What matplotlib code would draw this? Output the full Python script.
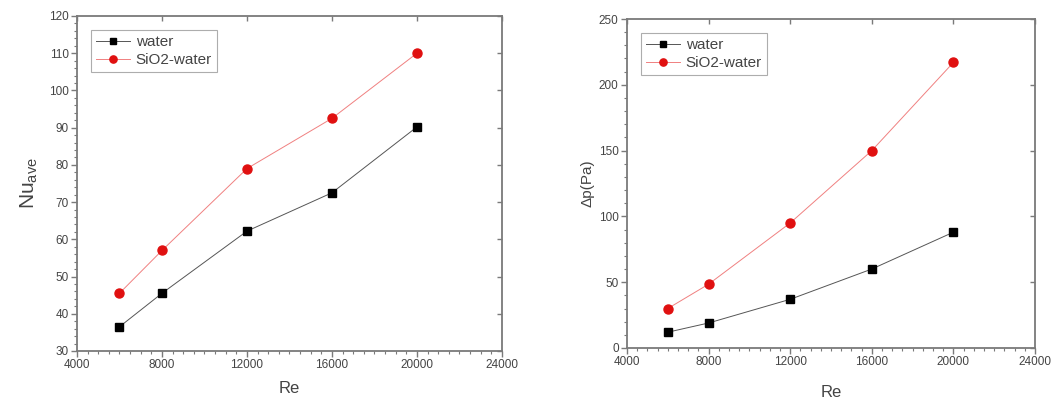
import matplotlib
matplotlib.use("Agg")
import matplotlib.pyplot as plt
from matplotlib.ticker import MultipleLocator

plt.rcParams['font.family'] = ['Liberation Sans', 'DejaVu Sans']

re_values = [6000, 8000, 12000, 16000, 20000]
nu_water = [36.5, 45.5, 62.2, 72.5, 90.2]
nu_sio2 = [45.5, 57.0, 79.0, 92.5, 110.0]
dp_water = [12, 19, 37, 60, 88]
dp_sio2 = [30, 48.5, 95, 150, 217]
series_labels = ["water", "SiO2-water"]

spine_col = "#7a7a7a"
text_col = "#444444"
red = "#e01010"

fig = plt.figure(figsize=(10.57, 4.07), dpi=100)
ax1 = fig.add_axes([0.0728, 0.1376, 0.4021, 0.8231])
ax2 = fig.add_axes([0.5932, 0.145, 0.3860, 0.8083])


def style(ax, ylim, ymajor, yminor):
    ax.set_xlim(4000, 24000)
    ax.set_ylim(*ylim)
    ax.xaxis.set_major_locator(MultipleLocator(4000))
    ax.xaxis.set_minor_locator(MultipleLocator(500))
    ax.yaxis.set_major_locator(MultipleLocator(ymajor))
    ax.yaxis.set_minor_locator(MultipleLocator(yminor))
    for s in ax.spines.values():
        s.set_color(spine_col)
        s.set_linewidth(1.3)
    ax.tick_params(which='major', direction='out', length=4, width=1,
                   color=spine_col, labelsize=8.5, labelcolor=text_col, pad=2)
    ax.tick_params(which='minor', direction='out', length=2.2, width=0.8,
                   color=spine_col)
    # inward major ticks on the top and right edges
    top = ax.secondary_xaxis('top')
    top.xaxis.set_major_locator(MultipleLocator(4000))
    top.tick_params(direction='in', length=3.5, width=1, color=spine_col,
                    labeltop=False)
    top.spines['top'].set_visible(False)
    right = ax.secondary_yaxis('right')
    right.yaxis.set_major_locator(MultipleLocator(ymajor))
    right.tick_params(direction='in', length=3.5, width=1, color=spine_col,
                      labelright=False)
    right.spines['right'].set_visible(False)


def draw(ax, yw, ys):
    ax.plot(re_values, yw, color="#555555", lw=0.7, marker='s', ms=6,
            mfc='black', mec='black', label=series_labels[0])
    ax.plot(re_values, ys, color="#f08080", lw=0.7, marker='o', ms=6.5,
            mfc=red, mec=red, label=series_labels[1])
    leg = ax.legend(loc='upper left', fontsize=11, frameon=True, fancybox=False,
                    edgecolor="#999999", handlelength=2.2, handletextpad=0.4,
                    borderpad=0.35, labelspacing=0.25, borderaxespad=0.9,
                    markerscale=0.8)
    leg.get_frame().set_linewidth(0.8)
    for t in leg.get_texts():
        t.set_color(text_col)


style(ax1, (30, 120), 10, 2)
draw(ax1, nu_water, nu_sio2)
ax1.set_xlabel("Re", fontsize=12, color=text_col, labelpad=7)
ax1.set_ylabel(r"Nu$_{\mathregular{ave}}$", fontsize=15, color=text_col, labelpad=6)

style(ax2, (0, 250), 50, 10)
draw(ax2, dp_water, dp_sio2)
ax2.set_xlabel("Re", fontsize=12, color=text_col, labelpad=12)
ax2.set_ylabel("Δp(Pa)", fontsize=11, color=text_col, labelpad=3)

fig.savefig("out.png", dpi=100)
